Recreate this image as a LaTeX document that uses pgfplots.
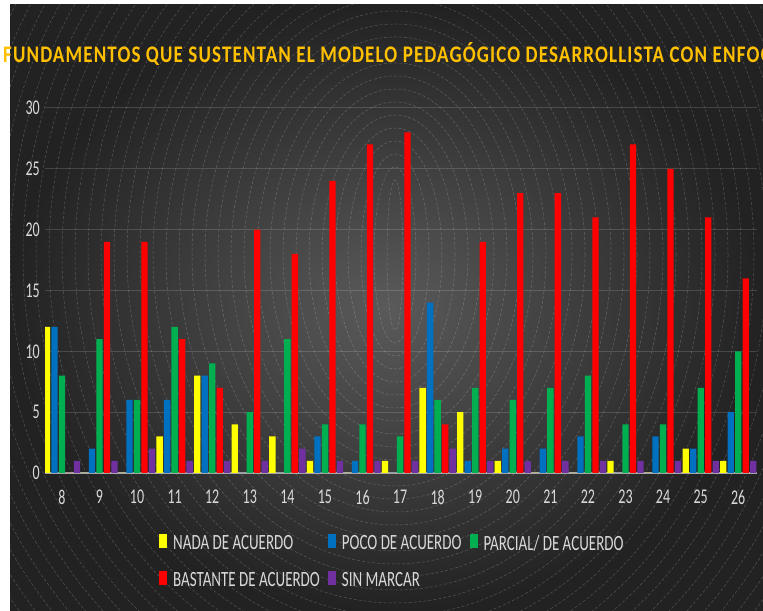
\documentclass[border=0pt]{standalone}
\usepackage{pgfplots}
\pgfplotsset{compat=1.18}
\usepackage{pgfplotstable}
\usepackage{fontspec}
\setmainfont{Carlito}
\usepackage{graphicx}

\definecolor{nada}{HTML}{FFFF00}
\definecolor{poco}{HTML}{0070C0}
\definecolor{parcial}{HTML}{00B050}
\definecolor{bastante}{HTML}{FF0000}
\definecolor{sinmarcar}{HTML}{7030A0}
\definecolor{txtgray}{HTML}{D9D9D9}
\definecolor{bgin}{HTML}{5A5A5A}
\definecolor{bgout}{HTML}{222222}
\definecolor{titleorange}{HTML}{FFC000}

% grado, nada, poco, parcial, bastante, sin marcar
\pgfplotstableread{
g  nada poco parcial bastante sin
8  12   12   8       0        1
9  0    2    11      19       1
10 0    6    6       19       2
11 3    6    12      11       1
12 8    8    9       7        1
13 4    0    5       20       1
14 3    0    11      18       2
15 1    3    4       24       1
16 0    1    4       27       1
17 1    0    3       28       1
18 7    14   6       4        2
19 5    1    7       19       1
20 1    2    6       23       1
21 0    2    7       23       1
22 0    3    8       21       1
23 1    0    4       27       1
24 0    3    4       25       1
25 2    2    7       21       1
26 1    5    10      16       1
}\datos

\newcommand{\tall}[1]{\scalebox{1}[1.5]{#1}}
\newcommand{\ltall}[1]{\scalebox{1}[1.45]{#1}}

\begin{document}
\begin{tikzpicture}[x=1bp,y=1bp]
\useasboundingbox (0,0) rectangle (763,611);
\clip (0,0) rectangle (763,611);
\fill[white] (0,0) rectangle (763,611);
\shade[inner color=bgin, outer color=bgout] (10,0) rectangle (763,606);
\begin{scope}
  \clip (10,0) rectangle (763,606);
  \foreach \k in {0,...,60}{
    \draw[white, opacity=0.22, line width=0.5bp, dash pattern=on 3bp off 2bp]
      (395,356) ellipse ({8+13*\k} and {75+13*\k});
  }
\end{scope}

\begin{axis}[
  at={(45bp,138bp)}, anchor=south west,
  scale only axis,
  width=712bp, height=365bp,
  ybar=1.2bp, bar width=6.3bp,
  xmin=7.55, xmax=26.5,
  ymin=0, ymax=30,
  xtick={8,...,26}, ytick={0,5,...,30},
  axis x line*=bottom, axis y line*=left,
  y axis line style={draw=none},
  x axis line style={draw=black!35, line width=2bp, -},
  major tick length=0pt,
  ymajorgrids,
  grid style={white, opacity=0.15, line width=1bp},
  /pgf/number format/assume math mode=true,
  tick label style={font=\fontsize{14bp}{16bp}\selectfont, text=txtgray, inner sep=0pt},
  xticklabel={\tall{\pgfmathprintnumber{\tick}}},
  yticklabel={\tall{\pgfmathprintnumber{\tick}}},
  xticklabel style={anchor=north, yshift=-17bp},
  yticklabel style={anchor=east, xshift=-5bp},
  legend columns=3,
  legend cell align=left,
  legend style={
    at={(0.160,-0.1667)}, anchor=north west,
    draw=none, fill=none, inner sep=0pt,
    font=\fontsize{15bp}{17bp}\selectfont, text=txtgray,
    nodes={inner sep=0pt},
    row sep=19bp,
    /tikz/every odd column/.append style={column sep=6bp},
    /tikz/every even column/.append style={column sep=8bp},
  },
  legend image code/.code={\fill[#1] (0bp,-4.5bp) rectangle (8bp,9.5bp);},
  every axis plot/.append style={draw=none},
]
\addplot[fill=nada] table[x=g, y=nada] {\datos};
\addplot[fill=poco] table[x=g, y=poco] {\datos};
\addplot[fill=parcial] table[x=g, y=parcial] {\datos};
\addplot[fill=bastante] table[x=g, y=bastante] {\datos};
\addplot[fill=sinmarcar] table[x=g, y=sin] {\datos};
\legend{\ltall{NADA DE ACUERDO}, \ltall{POCO DE ACUERDO}, \ltall{PARCIAL/ DE ACUERDO},
        \ltall{BASTANTE DE ACUERDO}, \ltall{SIN MARCAR}}
\end{axis}

\node[anchor=base west, inner sep=0pt, text=titleorange] at (3,548)
  {\resizebox{704bp}{20bp}{\bfseries\addfontfeatures{LetterSpace=6}FUNDAMENTOS QUE SUSTENTAN EL MODELO PEDAGÓGICO DESARROLLISTA CON\rlap{ ENFOQUE HISTÓRICO}}};
\end{tikzpicture}
\end{document}
